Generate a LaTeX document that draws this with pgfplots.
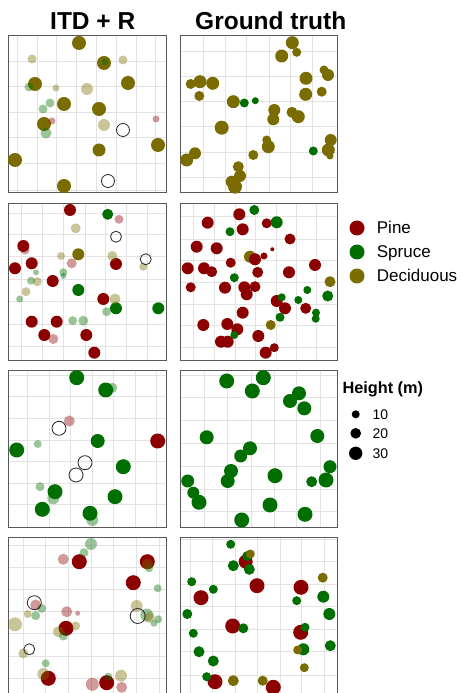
\documentclass[border=0pt]{standalone}
\usepackage{pgfplots}
\pgfplotsset{compat=1.18}
\usepackage{fontspec}
\setmainfont{Liberation Sans}

\definecolor{pine}{RGB}{140,0,0}
\definecolor{spruce}{RGB}{0,110,0}
\definecolor{decid}{RGB}{122,108,0}

\pgfplotsset{
  panel/.style={scale only axis, height=157pt, ymin=0, ymax=157, y dir=reverse, xmin=0,
    axis line style={black!65, line width=0.9pt},
    grid=major, grid style={black!11, line width=0.9pt},
    major tick length=0pt, tick style={draw=none},
    xticklabels={}, yticklabels={}, clip=true},
  pts/.style={only marks, scatter, mark=*,
    scatter/use mapped color={draw=#1, draw opacity=0, fill=#1},
    visualization depends on={\thisrow{d}/2 \as \mrad},
    scatter/@pre marker code/.append style={/tikz/mark size=\mrad}},
  ghost/.style={only marks, scatter, mark=*,
    scatter/use mapped color={draw=#1, draw opacity=0, fill=#1, fill opacity=0.4},
    visualization depends on={\thisrow{d}/2 \as \mrad},
    scatter/@pre marker code/.append style={/tikz/mark size=\mrad}},
  ring/.style={only marks, scatter, mark=o,
    scatter/use mapped color={draw=black!85, fill=none, line width=0.8pt},
    visualization depends on={\thisrow{d}/2 \as \mrad},
    scatter/@pre marker code/.append style={/tikz/mark size=\mrad}},
}

\begin{document}
\begin{tikzpicture}

% ---------------- row 1: deciduous stand ----------------
\begin{axis}[panel, at={(8pt,658pt)}, anchor=north west, width=158pt, xmax=158,
  xtick={9.3,29.1,48.9,68.7,88.5,108.3,128.1,147.9}, ytick={26,51.5,77.5,102,128.5,155}]
\addplot[pts=decid] table[x=u,y=v] {
u v d
71 8 14
96 28 14
27 49 14
120 48 14
56 69 14
91 74 14
36 89 14
150 110 14
91 115 13
7 125 14
56 151 14
};
\addplot[ghost=decid] table[x=u,y=v] {
u v d
24 24 9
115 25 9
48 53 7
79 54 12
96 90 12
};
\addplot[ghost=spruce] table[x=u,y=v] {
u v d
97 27 7
21 52 9
42 68 9
35 74 9
38 98 11
};
\addplot[ghost=pine] table[x=u,y=v] {
u v d
44 86 7
148 84 7
};
\addplot[ring] table[x=u,y=v] {
u v d
115 95 13
100 146 13
};
\end{axis}

\begin{axis}[panel, at={(180pt,658pt)}, anchor=north west, width=157pt, xmax=157,
  xtick={23.3,45,66.7,89,110.7,132.7}, ytick={16.7,41,66.7,91.7,117.3,142.3}]
\addplot[pts=decid] table[x=u,y=v] {
u v d
112.3 7.7 13
116.7 17.3 9
101.7 21 13
10.7 49 10
20 46.7 13
32.7 48.3 13
19.3 61 10
53.3 66.7 13
126 43.3 13
144 35 9
148 40 12
141.7 56.7 10
125.7 59.3 13
94.3 75 12
93.3 84.3 12
112 77.3 11
118.3 81.7 13
41.7 92.7 14
86.7 105 9
88.3 111.7 13
73.3 120 10
150.7 105 12
148.3 115 13
150 121 7
15 118.3 12
6.7 125 13
58.3 131.7 11
60 141 12
51.7 146.7 12
55 151.7 14
};
\addplot[pts=spruce] table[x=u,y=v] {
u v d
64.3 68 9
75.3 65.7 7
133.3 116 9
};
\end{axis}

% ---------------- row 2: pine-dominated stand ----------------
\begin{axis}[panel, at={(8pt,490pt)}, anchor=north west, width=158pt, xmax=158,
  xtick={13,34.3,55.3,77,97.7,118.7,139.7}, ytick={10.3,31.3,53.7,76,98.7,121,143}]
\addplot[pts=pine] table[x=u,y=v] {
u v d
62 7 12
15.3 43 12
108 61 12
7 65.3 12
23.7 60.3 12
44.7 78 12
95.3 96 12
23.7 118.7 12
48.7 118.7 12
36.3 132 12
78.3 132 12
86.3 149.7 12
};
\addplot[pts=spruce] table[x=u,y=v] {
u v d
99.7 11.3 11
70.3 87 12
108 105.3 12
150.3 105.3 12
};
\addplot[pts=decid] table[x=u,y=v] {
u v d
70.3 51.3 12
};
\addplot[ghost=pine] table[x=u,y=v] {
u v d
111 16.3 9
17 47 9
63.7 60.3 10
45.3 136 10
};
\addplot[ghost=decid] table[x=u,y=v] {
u v d
67.7 25.3 10
53 53 8
104.3 53 10
135.3 63.7 8
29.3 78.7 9
18 88.7 9
107 96 11
};
\addplot[ghost=spruce] table[x=u,y=v] {
u v d
28 69.3 6
23 77.7 8
55.3 69.3 8
55.3 73 6
11.7 96 7
98.7 108.7 9
64.7 117.7 9
75.3 117.7 10
};
\addplot[ring] table[x=u,y=v] {
u v d
108 33.7 11
137.7 56.3 11
};
\end{axis}

\begin{axis}[panel, at={(180pt,490pt)}, anchor=north west, width=157pt, xmax=157,
  xtick={13.3,34.3,55,75.7,96,116.7,136.7}, ytick={13.7,36,57.7,79.3,101,122.7,144.3}]
\addplot[pts=decid] table[x=u,y=v] {
u v d
70 53.7 12
150 78.7 11
90.7 122 10
};
\addplot[pts=pine] table[x=u,y=v] {
u v d
59.3 11.3 12
27.7 19.7 12
62.7 26.3 12
86.7 20.3 10
110 36 11
16.7 43.7 12
36.7 45.3 12
92.3 46.3 4
75 56.3 12
84 53 7
50.7 59.7 10
7.7 65.3 12
24 65.3 12
31.7 68.7 11
77.7 69.3 11
109 69.3 12
135 62 12
10.7 84.3 10
45 84.7 12
64.3 84.3 12
75 83.7 11
66.7 91.3 12
96.7 98 12
105 105.3 12
125.7 105.3 11
62.7 109.7 12
23.3 122 12
47.3 121 12
57.3 126.3 12
41 138.7 12
47.7 138.7 12
78.3 133 12
94.3 144.7 9
85.7 149.7 12
};
\addplot[pts=spruce] table[x=u,y=v] {
u v d
74.3 7 10
50 28.7 9
96.7 19.3 12
54.3 74.7 9
127.3 87 8
147.7 93 11
101.7 94.3 8
118.3 97 8
136 109.7 8
135.7 115.7 8
100 114.3 9
54.3 132 8
};
\end{axis}

% ---------------- row 3: spruce stand ----------------
\begin{axis}[panel, at={(8pt,323pt)}, anchor=north west, width=158pt, xmax=158,
  xtick={19.7,41,62.7,84.3,105.3,127,148.7}, ytick={5,26.7,48.3,70,91.7,113.3,134.3}]
\addplot[pts=spruce] table[x=u,y=v] {
u v d
68.7 7.7 15
97.7 20 15
89.7 71 14
8.7 80 15
115.3 96.7 15
47 121.7 15
107 126.7 15
34.3 139.3 15
82 143.3 15
};
\addplot[pts=pine] table[x=u,y=v] {
u v d
149.7 71 15
};
\addplot[ghost=spruce] table[x=u,y=v] {
u v d
104.3 17.7 10
29.7 74 8
32 116.7 9
45.3 128.3 12
84.3 150 12
};
\addplot[ghost=pine] table[x=u,y=v] {
u v d
61.3 51 11
};
\addplot[ring] table[x=u,y=v] {
u v d
51 58.3 14
77 92.7 14
68 105 14
};
\end{axis}

\begin{axis}[panel, at={(180pt,323pt)}, anchor=north west, width=157pt, xmax=157,
  xtick={24.3,47.7,71,94,116.7,140}, ytick={5,27.7,50,73.3,96,119,141.7}]
\addplot[pts=spruce] table[x=u,y=v] {
u v d
46.7 11 15
83.3 7.7 15
72.3 21 15
119 23.3 14
110 31 14
124.3 38.3 14
26.7 67.3 14
137.3 66 14
70 78.3 14
60.7 86 13
51 101 14
47.7 111 14
95 105.7 15
150 96.7 13
146 110 15
131.7 111.7 11
7.7 111 13
13.3 122.7 12
19 132.3 15
90 135 15
125 144.3 15
61.7 150 15
};
\end{axis}

% ---------------- row 4: mixed stand ----------------
\begin{axis}[panel, at={(8pt,156pt)}, anchor=north west, width=158pt, xmax=158,
  xtick={15.3,37.7,60.3,83,105.3,128,151}, ytick={8,30.2,52.4,74.6,96.8,119,141.2}]
\addplot[pts=pine] table[x=u,y=v] {
u v d
71.3 24.7 15
139.3 24.7 15
125.3 45.7 15
58 91.3 15
40.3 141.3 15
98.7 145.7 15
};
\addplot[ghost=spruce] table[x=u,y=v] {
u v d
83 7 12
76 15.7 9
141 31.3 8
149.7 51.3 8
33.7 71.3 9
27.7 78.7 9
138.7 78 13
150.3 82.3 8
146 86.3 7
55.3 99 9
37.7 126.3 8
100.3 139.7 8
};
\addplot[ghost=pine] table[x=u,y=v] {
u v d
55.3 22.3 11
27.7 68 11
58.7 74.7 11
69.7 76.3 5
84.3 147.3 13
113.7 150.3 11
};
\addplot[ghost=decid] table[x=u,y=v] {
u v d
139.3 27 11
19.7 77 8
7 87.3 14
128.7 69 12
141.3 80.3 11
50.3 94.7 11
67.7 89 9
15.3 116.3 10
35.3 137 12
113 138.7 12
};
\addplot[ring] table[x=u,y=v] {
u v d
26.3 65.7 14
129.7 79 15
21.3 112.3 11
};
\end{axis}

\begin{axis}[panel, at={(180pt,156pt)}, anchor=north west, width=157pt, xmax=157,
  xtick={10.3,32.7,55.7,77.7,100,121.7,144.3}, ytick={2.3,24.7,47,69.7,92.3,114.7,138}]
\addplot[pts=pine] table[x=u,y=v] {
u v d
65.7 24.7 14
77 48.7 15
21 60.7 15
121 50.3 15
52.7 89 15
120.7 95.3 15
35 144.7 15
93.3 150.3 15
};
\addplot[pts=spruce] table[x=u,y=v] {
u v d
50.7 7.3 9
67.3 19 10
53.3 28.7 11
69.3 32.3 11
11.7 44.7 9
33.3 52.3 9
7.3 77 10
143.3 59.7 12
116.7 63.7 9
149.3 77 12
63.3 91.3 10
13.3 96.3 9
125 90.3 9
150.3 108.7 11
123.3 112.3 12
19 114.7 11
33.3 124 11
26.7 139.7 9
};
\addplot[pts=decid] table[x=u,y=v] {
u v d
70.3 17 9
142.7 40.7 10
117.7 113 9
124.3 130.7 9
53.3 143.7 11
82.7 143.7 10
};
\end{axis}

% ---------------- column titles and legends ----------------
\begin{axis}[at={(0pt,0pt)}, anchor=south west, scale only axis, width=461pt, height=693pt,
  xmin=0, xmax=461, ymin=0, ymax=693, y dir=reverse, hide axis, clip=false]
\node[anchor=base west, inner sep=0pt, font=\fontsize{24.5}{29}\selectfont\bfseries]
  at (axis cs:50,30) {ITD + R};
\node[anchor=base west, inner sep=0pt, font=\fontsize{24.5}{29}\selectfont\bfseries]
  at (axis cs:195,30) {Ground truth};
% species legend
\addplot[pts=pine] table[x=u,y=v] {
u v d
357 228 15
};
\addplot[pts=spruce] table[x=u,y=v] {
u v d
357 252 15
};
\addplot[pts=decid] table[x=u,y=v] {
u v d
357 276 15
};
\node[anchor=base west, inner sep=0pt, font=\fontsize{17}{20}\selectfont] at (axis cs:376.7,234) {Pine};
\node[anchor=base west, inner sep=0pt, font=\fontsize{17}{20}\selectfont] at (axis cs:376.7,258) {Spruce};
\node[anchor=base west, inner sep=0pt, font=\fontsize{17}{20}\selectfont] at (axis cs:376.7,282) {Deciduous};
% height legend
\node[anchor=base west, inner sep=0pt, font=\fontsize{16.3}{19}\selectfont\bfseries] at (axis cs:342.3,393.3) {Height (m)};
\addplot[pts=black] table[x=u,y=v] {
u v d
355.7 414.3 8
355.7 433.3 10.7
355.7 453.3 13.3
};
\node[anchor=base west, inner sep=0pt, font=\fontsize{14}{17}\selectfont] at (axis cs:372.3,419.3) {10};
\node[anchor=base west, inner sep=0pt, font=\fontsize{14}{17}\selectfont] at (axis cs:372.3,438.3) {20};
\node[anchor=base west, inner sep=0pt, font=\fontsize{14}{17}\selectfont] at (axis cs:372.3,458.3) {30};
\end{axis}

\pgfresetboundingbox
\useasboundingbox (0pt,0pt) rectangle (461pt,693pt);
\end{tikzpicture}
\end{document}
